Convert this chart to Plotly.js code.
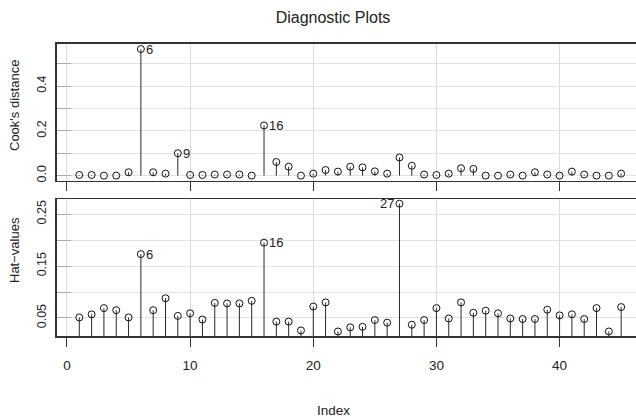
<!DOCTYPE html>
<html>
<head>
<meta charset="utf-8">
<script src="https://cdn.plot.ly/plotly-3.0.1.min.js"></script>
<style>html,body{margin:0;padding:0;background:#fff;}#chart{width:636px;height:420px;}</style>
</head>
<body>
<div id="chart"></div>
<script>
const obsIndex = [1,2,3,4,5,6,7,8,9,10,11,12,13,14,15,16,17,18,19,20,21,22,23,24,25,26,27,28,29,30,31,32,33,34,35,36,37,38,39,40,41,42,43,44,45];
const cooksD = [0.003,0.003,0.0,0.0,0.015,0.565,0.015,0.009,0.100,0.003,
                0.003,0.005,0.005,0.005,0.0,0.224,0.061,0.040,0.0,0.009,
                0.025,0.018,0.040,0.037,0.019,0.009,0.081,0.044,0.005,0.003,
                0.009,0.033,0.030,0.0,0.0,0.005,0.0,0.015,0.005,0.0,
                0.018,0.005,0.0,0.0,0.009];
const hatValues = [0.051,0.057,0.069,0.065,0.051,0.173,0.065,0.088,0.054,0.059,
                   0.047,0.079,0.078,0.078,0.083,0.195,0.043,0.043,0.026,0.072,
                   0.080,0.024,0.032,0.033,0.046,0.041,0.270,0.037,0.046,0.069,
                   0.049,0.080,0.060,0.064,0.059,0.049,0.048,0.048,0.066,0.055,
                   0.057,0.048,0.069,0.024,0.071];
const cookLabels = [6, 9, 16];
const hatLabels = [6, 16, 27];
const xTicks = [0,10,20,30,40];
const cookTickVals = [0,0.1,0.2,0.3,0.4,0.5];
const cookTickText = ['0.0','','0.2','','0.4',''];
const hatTickVals = [0.05,0.10,0.15,0.20,0.25];
const hatTickText = ['0.05','','0.15','','0.25'];

function stems(xs, ys) {
  const sx = [], sy = [];
  xs.forEach((x, i) => { sx.push(x, x, null); sy.push(0, ys[i], null); });
  return {sx, sy};
}
const c = stems(obsIndex, cooksD);
const h = stems(obsIndex, hatValues);

const stemLine = {color:'#2a2a2a', width:1};
const mk = {symbol:'circle-open', size:7, color:'#111', line:{width:1, color:'#111'}};

const traces = [
  {x:c.sx, y:c.sy, mode:'lines', line:stemLine, xaxis:'x', yaxis:'y', hoverinfo:'skip'},
  {x:obsIndex, y:cooksD, mode:'markers', marker:mk, xaxis:'x', yaxis:'y', cliponaxis:false},
  {x:h.sx, y:h.sy, mode:'lines', line:stemLine, xaxis:'x2', yaxis:'y2', hoverinfo:'skip'},
  {x:obsIndex, y:hatValues, mode:'markers', marker:mk, xaxis:'x2', yaxis:'y2', cliponaxis:false}
];

const font = {family:'Liberation Sans, Arial, sans-serif', size:13, color:'#222'};
const annotations = [];
cookLabels.forEach(k => annotations.push({x:k, y:cooksD[k-1], xref:'x', yref:'y', text:String(k), showarrow:false, xanchor:'left', yanchor:'middle', xshift:3, font:{...font, size:13}}));
hatLabels.forEach(k => {
  const left = k === 27;
  annotations.push({x:k, y:hatValues[k-1], xref:'x2', yref:'y2', text:String(k), showarrow:false, xanchor: left ? 'right' : 'left', yanchor:'middle', xshift: left ? -3 : 3, font:{...font, size:13}});
});
annotations.push({text:"Cook's distance", xref:'paper', yref:'paper', x:(15-57)/579, y:(336-106)/292, textangle:-90, showarrow:false, xanchor:'center', yanchor:'middle', font:font});
annotations.push({text:'Hat\u2212values', xref:'paper', yref:'paper', x:(15-57)/579, y:(336-250)/292, textangle:-90, showarrow:false, xanchor:'center', yanchor:'middle', font:font});
annotations.push({text:'Index', xref:'paper', yref:'paper', x:(333-57)/579, y:(336-410)/292, showarrow:false, xanchor:'center', yanchor:'middle', font:{...font, size:13.5}});

const xRange = [-0.81, -0.81 + 579/12.315];
const xCommon = {range:xRange, tickvals:xTicks, ticks:'outside', ticklen:9, tickcolor:'#333', tickwidth:1,
  showgrid:true, gridcolor:'#dcdcdc', gridwidth:1, zeroline:false, showline:true, mirror:true, linecolor:'#333', linewidth:1.7, tickfont:{...font, size:13.5}};
const yCommon = {ticks:'inside', ticklen:14, tickcolor:'#aaa', tickwidth:1, tickangle:-90, showgrid:true, gridcolor:'#e2e2e2', gridwidth:1,
  zeroline:false, showline:true, linecolor:'#333', linewidth:1.7, tickfont:{...font, size:12.5}, ticklabelstandoff:4};

const layout = {
  width:636, height:420,
  margin:{l:57, r:0, t:44, b:84},
  paper_bgcolor:'#fff', plot_bgcolor:'#fff',
  showlegend:false,
  title:{text:'Diagnostic Plots', x:333/636, xref:'container', xanchor:'center', y:1-17/420, yref:'container', yanchor:'middle', font:{...font, size:16}},
  xaxis:{...xCommon, domain:[0,1], anchor:'y', showticklabels:false},
  yaxis:{...yCommon, domain:[(336-180.7)/292, 1], range:[-0.0226, 0.5876], tickvals:cookTickVals, ticktext:cookTickText, anchor:'x'},
  xaxis2:{...xCommon, domain:[0,1], anchor:'y2', showticklabels:true, ticklabelstandoff:7},
  yaxis2:{...yCommon, domain:[0, (336-199.3)/292], range:[0.0153, 0.2785], tickvals:hatTickVals, ticktext:hatTickText, anchor:'x2'},
  annotations:annotations
};

Plotly.newPlot('chart', traces, layout, {displayModeBar:false, staticPlot:true});
</script>
</body>
</html>
